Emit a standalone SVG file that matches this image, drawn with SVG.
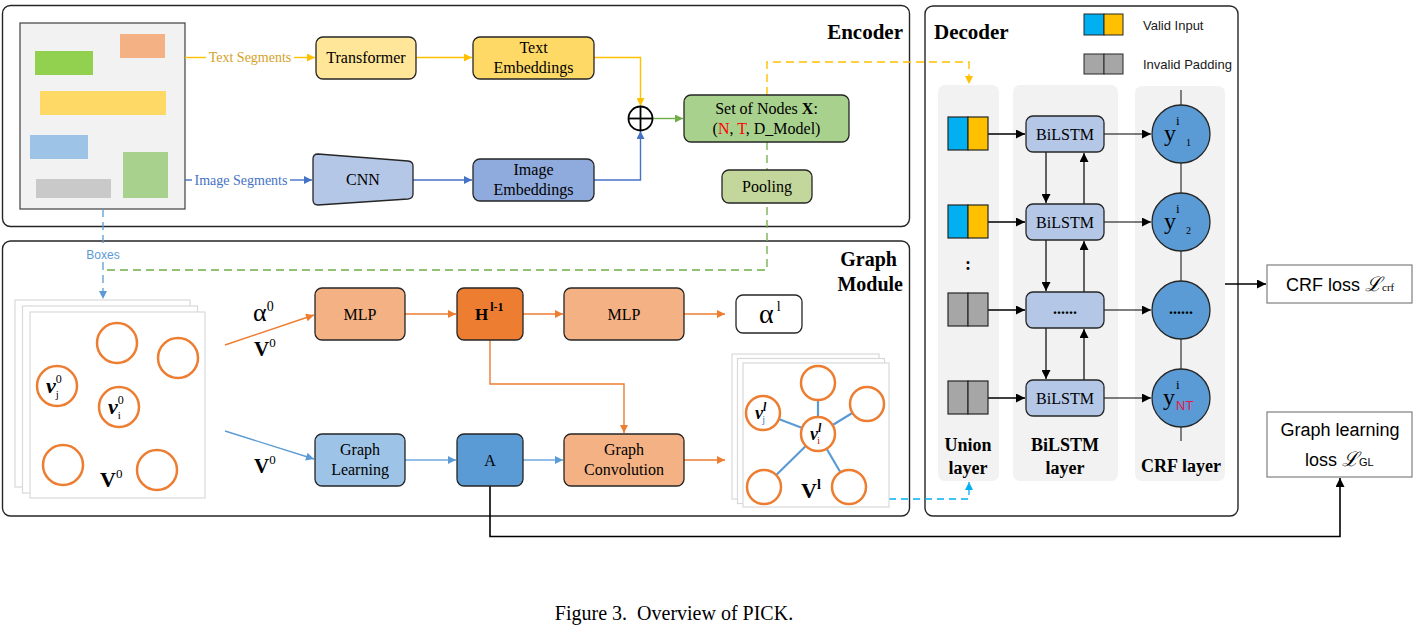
<svg xmlns="http://www.w3.org/2000/svg" width="1417" height="632" viewBox="0 0 1417 632">
<style>
.serif{font-family:"Liberation Serif","Times New Roman",serif;}
.sans{font-family:"Liberation Sans",Arial,sans-serif;}
.box{stroke:#262626;stroke-width:1.3;}
.frame{fill:none;stroke:#262626;stroke-width:1.4;}
.t16{font-size:16px;}
.mid{text-anchor:middle;}
.b{font-weight:bold;}
.node{fill:none;stroke:#ed7d31;stroke-width:2.5;}
.nodew{fill:#fff;stroke:#ed7d31;stroke-width:2.5;}
.panel{fill:#f2f2f2;}
</style>
<defs>
<marker id="aO" viewBox="0 0 10 10" refX="10" refY="5" markerWidth="9" markerHeight="8" markerUnits="userSpaceOnUse" orient="auto"><path d="M0,0L10,5L0,10z" fill="#ed7d31"/></marker>
<marker id="aY" viewBox="0 0 10 10" refX="10" refY="5" markerWidth="9" markerHeight="8" markerUnits="userSpaceOnUse" orient="auto"><path d="M0,0L10,5L0,10z" fill="#ffc000"/></marker>
<marker id="aB" viewBox="0 0 10 10" refX="10" refY="5" markerWidth="9" markerHeight="8" markerUnits="userSpaceOnUse" orient="auto"><path d="M0,0L10,5L0,10z" fill="#4472c4"/></marker>
<marker id="aL" viewBox="0 0 10 10" refX="10" refY="5" markerWidth="9" markerHeight="8" markerUnits="userSpaceOnUse" orient="auto"><path d="M0,0L10,5L0,10z" fill="#5b9bd5"/></marker>
<marker id="aG" viewBox="0 0 10 10" refX="10" refY="5" markerWidth="9" markerHeight="8" markerUnits="userSpaceOnUse" orient="auto"><path d="M0,0L10,5L0,10z" fill="#70ad47"/></marker>
<marker id="aK" viewBox="0 0 10 10" refX="10" refY="5" markerWidth="10" markerHeight="9" markerUnits="userSpaceOnUse" orient="auto"><path d="M0,0L10,5L0,10z" fill="#000"/></marker>
<marker id="aC" viewBox="0 0 10 10" refX="10" refY="5" markerWidth="9" markerHeight="8" markerUnits="userSpaceOnUse" orient="auto"><path d="M0,0L10,5L0,10z" fill="#00b0f0"/></marker>
</defs>
<rect width="1417" height="632" fill="#fff"/>

<!-- frames -->
<g id="encoder-frame">
<rect class="frame" x="2.5" y="5.5" width="907" height="221" rx="8"/>
<text class="serif b" x="903" y="39" font-size="21" text-anchor="end">Encoder</text>
</g>
<g id="graph-module-frame">
<rect class="frame" x="2.5" y="241" width="907" height="275" rx="8"/>
<text class="serif b" x="897" y="266" font-size="20" text-anchor="end">Graph</text>
<text class="serif b" x="903" y="291" font-size="20" text-anchor="end">Module</text>
</g>
<g id="decoder-frame">
<rect class="frame" x="925" y="6" width="313" height="510" rx="8"/>
<text class="serif b" x="934" y="39" font-size="21">Decoder</text>
<rect class="panel" x="938" y="85" width="61" height="396" rx="7"/>
<rect class="panel" x="1013" y="85" width="105" height="396" rx="7"/>
<rect class="panel" x="1135" y="86" width="90" height="395" rx="7"/>
</g>

<!-- document -->
<g id="document">
<rect x="20" y="23" width="165" height="186" fill="#f2f2f2" stroke="#404040" stroke-width="1.2"/>
<rect x="120" y="34" width="45" height="24" fill="#f4b183"/>
<rect x="35" y="51" width="58" height="24" fill="#92d050"/>
<rect x="40" y="91" width="126" height="24" fill="#ffd966"/>
<rect x="30" y="135" width="58" height="24" fill="#9dc3e6"/>
<rect x="123" y="152" width="45" height="46" fill="#a9d18e"/>
<rect x="36" y="179" width="75" height="19" fill="#c9c9c9"/>
</g>

<!-- connectors -->
<g id="connectors" fill="none">
<line x1="185" y1="57.5" x2="206" y2="57.5" stroke="#ffc000" stroke-width="1.4"/>
<line x1="294" y1="57.5" x2="315" y2="57.5" stroke="#ffc000" stroke-width="1.4" marker-end="url(#aY)"/>
<line x1="416" y1="57.5" x2="472" y2="57.5" stroke="#ffc000" stroke-width="1.4" marker-end="url(#aY)"/>
<polyline points="594,57.5 640.5,57.5 640.5,106" stroke="#ffc000" stroke-width="1.4" marker-end="url(#aY)"/>
<line x1="185" y1="180" x2="192" y2="180" stroke="#4472c4" stroke-width="1.4"/>
<line x1="290" y1="180" x2="312" y2="180" stroke="#4472c4" stroke-width="1.4" marker-end="url(#aB)"/>
<line x1="413" y1="180" x2="472" y2="180" stroke="#4472c4" stroke-width="1.4" marker-end="url(#aB)"/>
<polyline points="594,180 640.5,180 640.5,131" stroke="#4472c4" stroke-width="1.4" marker-end="url(#aB)"/>
<line x1="653" y1="118.5" x2="683" y2="118.5" stroke="#70ad47" stroke-width="1.4" marker-end="url(#aG)"/>
<polyline points="767,142 767,270 103,270" stroke="#70ad47" stroke-width="1.3" stroke-dasharray="8,5"/>
<polyline points="767,95 767,62 969,62 969,84" stroke="#ffc000" stroke-width="1.4" stroke-dasharray="8,5" marker-end="url(#aY)"/>
<line x1="103" y1="209" x2="103" y2="248" stroke="#5b9bd5" stroke-width="1.3" stroke-dasharray="8,5"/>
<line x1="103" y1="262" x2="103" y2="299" stroke="#5b9bd5" stroke-width="1.3" stroke-dasharray="8,5" marker-end="url(#aL)"/>
<line x1="225" y1="345" x2="314" y2="315" stroke="#ed7d31" stroke-width="1.4" marker-end="url(#aO)"/>
<line x1="225" y1="431" x2="314" y2="459" stroke="#5b9bd5" stroke-width="1.4" marker-end="url(#aL)"/>
<line x1="405" y1="314" x2="456" y2="314" stroke="#ed7d31" stroke-width="1.4" marker-end="url(#aO)"/>
<line x1="523" y1="314" x2="563" y2="314" stroke="#ed7d31" stroke-width="1.4" marker-end="url(#aO)"/>
<line x1="684" y1="314" x2="725" y2="314" stroke="#ed7d31" stroke-width="1.4" marker-end="url(#aO)"/>
<polyline points="490,340 490,384 624,384 624,433" stroke="#ed7d31" stroke-width="1.4" marker-end="url(#aO)"/>
<line x1="405" y1="460" x2="456" y2="460" stroke="#6fa8dc" stroke-width="1.4" marker-end="url(#aL)"/>
<line x1="523" y1="460" x2="563" y2="460" stroke="#6fa8dc" stroke-width="1.4" marker-end="url(#aL)"/>
<line x1="684" y1="460" x2="725" y2="460" stroke="#ed7d31" stroke-width="1.4" marker-end="url(#aO)"/>
<polyline points="889,499 969,499 969,482" stroke="#00b0f0" stroke-width="1.3" stroke-dasharray="7,5" marker-end="url(#aC)"/>
<polyline points="490,486 490,536.5 1340,536.5 1340,478" stroke="#000" stroke-width="1.6" marker-end="url(#aK)"/>
<g stroke="#000" stroke-width="1.6">
<line x1="988" y1="134" x2="1025" y2="134" marker-end="url(#aK)"/>
<line x1="988" y1="222" x2="1025" y2="222" marker-end="url(#aK)"/>
<line x1="988" y1="310" x2="1025" y2="310" marker-end="url(#aK)"/>
<line x1="988" y1="398" x2="1025" y2="398" marker-end="url(#aK)"/>
</g>
<g stroke="#000" stroke-width="1.2">
<line x1="1104" y1="134" x2="1151" y2="134" marker-end="url(#aK)"/>
<line x1="1104" y1="222" x2="1151" y2="222" marker-end="url(#aK)"/>
<line x1="1104" y1="310" x2="1151" y2="310" marker-end="url(#aK)"/>
<line x1="1104" y1="398" x2="1151" y2="398" marker-end="url(#aK)"/>
<line x1="1046" y1="152" x2="1046" y2="203" marker-end="url(#aK)"/>
<line x1="1084" y1="204" x2="1084" y2="153" marker-end="url(#aK)"/>
<line x1="1046" y1="240" x2="1046" y2="291" marker-end="url(#aK)"/>
<line x1="1084" y1="292" x2="1084" y2="241" marker-end="url(#aK)"/>
<line x1="1046" y1="328" x2="1046" y2="379" marker-end="url(#aK)"/>
<line x1="1084" y1="380" x2="1084" y2="329" marker-end="url(#aK)"/>
</g>
<g stroke="#404040" stroke-width="1.3">
<line x1="1181" y1="90" x2="1181" y2="105"/>
<line x1="1181" y1="163" x2="1181" y2="193"/>
<line x1="1181" y1="251" x2="1181" y2="281"/>
<line x1="1181" y1="339" x2="1181" y2="369"/>
<line x1="1181" y1="427" x2="1181" y2="441"/>
</g>
<line x1="1225" y1="284" x2="1266" y2="284" stroke="#000" stroke-width="1.6" marker-end="url(#aK)"/>
</g>

<!-- labels on connectors -->
<g id="edge-labels">
<text class="serif" x="250" y="62" font-size="14" fill="#d4a21f" text-anchor="middle">Text Segments</text>
<text class="serif" x="241" y="185" font-size="14" fill="#4472c4" text-anchor="middle">Image Segments</text>
<text class="sans" x="103" y="259" font-size="12" fill="#5b9bd5" text-anchor="middle">Boxes</text>
<text class="serif" x="253" y="321" font-size="26">α<tspan font-size="14" dy="-10">0</tspan></text>
<text class="serif b" x="254" y="356" font-size="21">V<tspan font-size="13" font-weight="normal" dy="-9">0</tspan></text>
<text class="serif b" x="254" y="473" font-size="21">V<tspan font-size="13" font-weight="normal" dy="-9">0</tspan></text>
</g>

<!-- encoder nodes -->
<g id="transformer">
<rect class="box" x="316" y="37" width="100" height="42" rx="7" fill="#ffe699"/>
<text class="serif t16 mid" x="366" y="63">Transformer</text>
</g>
<g id="text-embeddings">
<rect class="box" x="473" y="37" width="121" height="42" rx="7" fill="#ffd966"/>
<text class="serif t16 mid" x="533.5" y="53">Text</text>
<text class="serif t16 mid" x="533.5" y="73">Embeddings</text>
</g>
<g id="cnn">
<path class="box" d="M318,154 L408,161 Q413,161.5 413,166 L413,194 Q413,198.5 408,199 L318,205 Q313,205 313,200 L313,159 Q313,154 318,154 Z" fill="#b4c7e7"/>
<text class="serif t16 mid" x="363" y="185">CNN</text>
</g>
<g id="image-embeddings">
<rect class="box" x="473" y="159" width="121" height="42" rx="7" fill="#8faadc"/>
<text class="serif t16 mid" x="533.5" y="175">Image</text>
<text class="serif t16 mid" x="533.5" y="195">Embeddings</text>
</g>
<g id="sum">
<circle cx="640.5" cy="118.5" r="12" fill="#fff" stroke="#000" stroke-width="1.8"/>
<line x1="628.5" y1="118.5" x2="652.5" y2="118.5" stroke="#000" stroke-width="1.8"/>
<line x1="640.5" y1="106.5" x2="640.5" y2="130.5" stroke="#000" stroke-width="1.8"/>
</g>
<g id="set-of-nodes">
<rect class="box" x="684" y="95" width="165" height="47" rx="7" fill="#a9d18e"/>
<text class="serif t16 mid" x="766.5" y="114">Set of Nodes <tspan font-weight="bold">X</tspan>:</text>
<text class="serif t16 mid" x="766.5" y="134">(<tspan fill="#ff0000">N</tspan>, <tspan fill="#ff0000">T</tspan>, D_Model)</text>
</g>
<g id="pooling">
<rect class="box" x="722" y="170" width="90" height="33" rx="7" fill="#c3d69b"/>
<text class="serif t16 mid" x="767" y="192">Pooling</text>
</g>

<!-- graph module nodes -->
<g id="input-graph">
<rect x="15" y="300" width="175" height="187" fill="#fff" stroke="#d9d9d9" stroke-width="1.2"/>
<rect x="22.5" y="306" width="175" height="187" fill="#fff" stroke="#d9d9d9" stroke-width="1.2"/>
<rect x="30" y="312" width="175" height="186" fill="#fff" stroke="#d9d9d9" stroke-width="1.2"/>
<circle class="node" cx="117" cy="343" r="20"/>
<circle class="node" cx="178" cy="358" r="20"/>
<circle class="node" cx="57" cy="386" r="20"/>
<circle class="node" cx="119" cy="407" r="20"/>
<circle class="node" cx="63" cy="465" r="20"/>
<circle class="node" cx="157" cy="470" r="20"/>
<text class="serif b" x="46" y="393" font-size="22" font-style="italic">ν<tspan font-size="12" font-weight="normal" font-style="normal" dy="-10">0</tspan><tspan font-size="11" font-weight="normal" font-style="normal" dx="-6" dy="15">j</tspan></text>
<text class="serif b" x="108" y="414" font-size="22" font-style="italic">ν<tspan font-size="12" font-weight="normal" font-style="normal" dy="-10">0</tspan><tspan font-size="11" font-weight="normal" font-style="normal" dx="-6" dy="15">i</tspan></text>
<text class="serif b" x="100" y="487" font-size="22">V<tspan font-size="13" font-weight="normal" dy="-9">0</tspan></text>
</g>
<g id="mlp1">
<rect class="box" x="315" y="288" width="90" height="52" rx="7" fill="#f4b183"/>
<text class="serif t16 mid" x="360" y="320">MLP</text>
</g>
<g id="h-node">
<rect class="box" x="457" y="288" width="66" height="52" rx="7" fill="#ed7d31"/>
<text class="serif b" x="475" y="320" font-size="17">H<tspan font-size="12" dy="-9" dx="2">l-1</tspan></text>
</g>
<g id="mlp2">
<rect class="box" x="564" y="288" width="120" height="52" rx="7" fill="#f4b183"/>
<text class="serif t16 mid" x="624" y="320">MLP</text>
</g>
<g id="alpha-l">
<rect class="box" x="736" y="295" width="66" height="38" rx="7" fill="#fff"/>
<text class="serif" x="759" y="323" font-size="28">α<tspan font-size="14" dy="-12" dx="3">l</tspan></text>
</g>
<g id="graph-learning">
<rect class="box" x="315" y="434" width="90" height="52" rx="7" fill="#9dc3e6"/>
<text class="serif t16 mid" x="360" y="455">Graph</text>
<text class="serif t16 mid" x="360" y="475">Learning</text>
</g>
<g id="a-node">
<rect class="box" x="457" y="434" width="66" height="52" rx="7" fill="#5b9bd5"/>
<text class="serif t16 mid" x="490" y="466">A</text>
</g>
<g id="graph-convolution">
<rect class="box" x="564" y="434" width="120" height="52" rx="7" fill="#f4b183"/>
<text class="serif t16 mid" x="624" y="455">Graph</text>
<text class="serif t16 mid" x="624" y="475">Convolution</text>
</g>
<g id="output-graph">
<rect x="732" y="354" width="147" height="145" fill="#fff" stroke="#d9d9d9" stroke-width="1.2"/>
<rect x="737.5" y="358.5" width="147" height="145" fill="#fff" stroke="#d9d9d9" stroke-width="1.2"/>
<rect x="743" y="363" width="146" height="144" fill="#fff" stroke="#d9d9d9" stroke-width="1.2"/>
<g stroke="#5b9bd5" stroke-width="2.2">
<line x1="818" y1="434" x2="818" y2="383"/>
<line x1="818" y1="434" x2="867" y2="404"/>
<line x1="818" y1="434" x2="763" y2="413"/>
<line x1="818" y1="434" x2="764" y2="487"/>
<line x1="818" y1="434" x2="849" y2="487"/>
</g>
<circle class="nodew" cx="818" cy="383" r="17"/>
<circle class="nodew" cx="867" cy="404" r="17"/>
<circle class="nodew" cx="763" cy="413" r="17"/>
<circle class="nodew" cx="818" cy="434" r="17"/>
<circle class="nodew" cx="764" cy="487" r="17"/>
<circle class="nodew" cx="849" cy="487" r="17"/>
<text class="serif b" x="755" y="419" font-size="18" font-style="italic">ν<tspan font-size="12" dy="-8">l</tspan><tspan font-size="10" font-weight="normal" font-style="normal" fill="#4472c4" dx="-4" dy="12">j</tspan></text>
<text class="serif b" x="810" y="440" font-size="18" font-style="italic">ν<tspan font-size="12" dy="-8">l</tspan><tspan font-size="10" font-weight="normal" font-style="normal" fill="#c00000" dx="-4" dy="12">i</tspan></text>
<text class="serif b" x="801" y="498" font-size="22">V<tspan font-size="14" dy="-9">l</tspan></text>
</g>

<!-- decoder nodes -->
<g id="legend">
<rect x="1084" y="14" width="20" height="21" fill="#00b0f0" stroke="#262626" stroke-width="1"/>
<rect x="1104" y="14" width="19" height="21" fill="#ffc000" stroke="#262626" stroke-width="1"/>
<text class="sans" x="1143" y="30" font-size="13" fill="#1a1a1a">Valid Input</text>
<rect x="1084" y="54" width="20" height="20" fill="#a6a6a6" stroke="#262626" stroke-width="1"/>
<rect x="1104" y="54" width="19" height="20" fill="#a6a6a6" stroke="#262626" stroke-width="1"/>
<text class="sans" x="1143" y="69" font-size="13" fill="#1a1a1a">Invalid Padding</text>
</g>
<g id="union-layer">
<rect x="948" y="117" width="20" height="33" fill="#00b0f0" stroke="#262626" stroke-width="1.2"/>
<rect x="968" y="117" width="20" height="33" fill="#ffc000" stroke="#262626" stroke-width="1.2"/>
<rect x="948" y="205" width="20" height="33" fill="#00b0f0" stroke="#262626" stroke-width="1.2"/>
<rect x="968" y="205" width="20" height="33" fill="#ffc000" stroke="#262626" stroke-width="1.2"/>
<text class="serif b" x="968" y="270" font-size="18" text-anchor="middle">:</text>
<rect x="948" y="293" width="20" height="33" fill="#a6a6a6" stroke="#262626" stroke-width="1.2"/>
<rect x="968" y="293" width="20" height="33" fill="#a6a6a6" stroke="#262626" stroke-width="1.2"/>
<rect x="948" y="381" width="20" height="33" fill="#a6a6a6" stroke="#262626" stroke-width="1.2"/>
<rect x="968" y="381" width="20" height="33" fill="#a6a6a6" stroke="#262626" stroke-width="1.2"/>
<text class="serif b mid" x="968" y="451" font-size="18">Union</text>
<text class="serif b mid" x="968" y="474" font-size="18">layer</text>
</g>
<g id="bilstm-layer">
<rect class="box" x="1026" y="116" width="78" height="36" rx="7" fill="#b4c7e7"/>
<text class="serif t16 mid" x="1065" y="140">BiLSTM</text>
<rect class="box" x="1026" y="204" width="78" height="36" rx="7" fill="#b4c7e7"/>
<text class="serif t16 mid" x="1065" y="228">BiLSTM</text>
<rect class="box" x="1026" y="292" width="78" height="36" rx="7" fill="#b4c7e7"/>
<text class="serif b t16 mid" x="1065" y="314">......</text>
<rect class="box" x="1026" y="380" width="78" height="36" rx="7" fill="#b4c7e7"/>
<text class="serif t16 mid" x="1065" y="404">BiLSTM</text>
<text class="serif b mid" x="1065" y="451" font-size="18">BiLSTM</text>
<text class="serif b mid" x="1065" y="474" font-size="18">layer</text>
</g>
<g id="crf-layer">
<circle cx="1181" cy="134" r="29" fill="#5b9bd5" stroke="#262626" stroke-width="1.3"/>
<circle cx="1181" cy="222" r="29" fill="#5b9bd5" stroke="#262626" stroke-width="1.3"/>
<circle cx="1181" cy="310" r="29" fill="#5b9bd5" stroke="#262626" stroke-width="1.3"/>
<circle cx="1181" cy="398" r="29" fill="#5b9bd5" stroke="#262626" stroke-width="1.3"/>
<text class="serif" x="1164" y="141" font-size="24">y</text>
<text class="serif" x="1176" y="125" font-size="13">i</text>
<text class="serif" x="1186" y="146" font-size="10">1</text>
<text class="serif" x="1164" y="229" font-size="24">y</text>
<text class="serif" x="1176" y="213" font-size="13">i</text>
<text class="serif" x="1186" y="234" font-size="10">2</text>
<text class="serif b t16 mid" x="1181" y="314">......</text>
<text class="serif" x="1163" y="405" font-size="24">y</text>
<text class="serif" x="1176" y="389" font-size="13">i</text>
<text class="sans" x="1176" y="410" font-size="13" fill="#e8174a">NT</text>
<text class="serif b mid" x="1181" y="472" font-size="18">CRF layer</text>
</g>

<!-- losses -->
<g id="crf-loss">
<rect x="1267" y="265" width="145" height="38" fill="#fff" stroke="#7f7f7f" stroke-width="1.2"/>
<text class="sans" x="1286" y="291" font-size="18">CRF loss <tspan class="serif" font-style="italic" font-size="20">ℒ</tspan><tspan class="serif" font-size="11">crf</tspan></text>
</g>
<g id="gl-loss">
<rect x="1267" y="412" width="145" height="65" fill="#fff" stroke="#7f7f7f" stroke-width="1.2"/>
<text class="sans mid" x="1340" y="436" font-size="18">Graph learning</text>
<text class="sans" x="1305" y="466" font-size="18">loss <tspan class="serif" font-style="italic" font-size="20">ℒ</tspan><tspan font-size="11">GL</tspan></text>
</g>

<text class="serif mid" x="674" y="620" font-size="20" xml:space="preserve">Figure 3.  Overview of PICK.</text>
</svg>
